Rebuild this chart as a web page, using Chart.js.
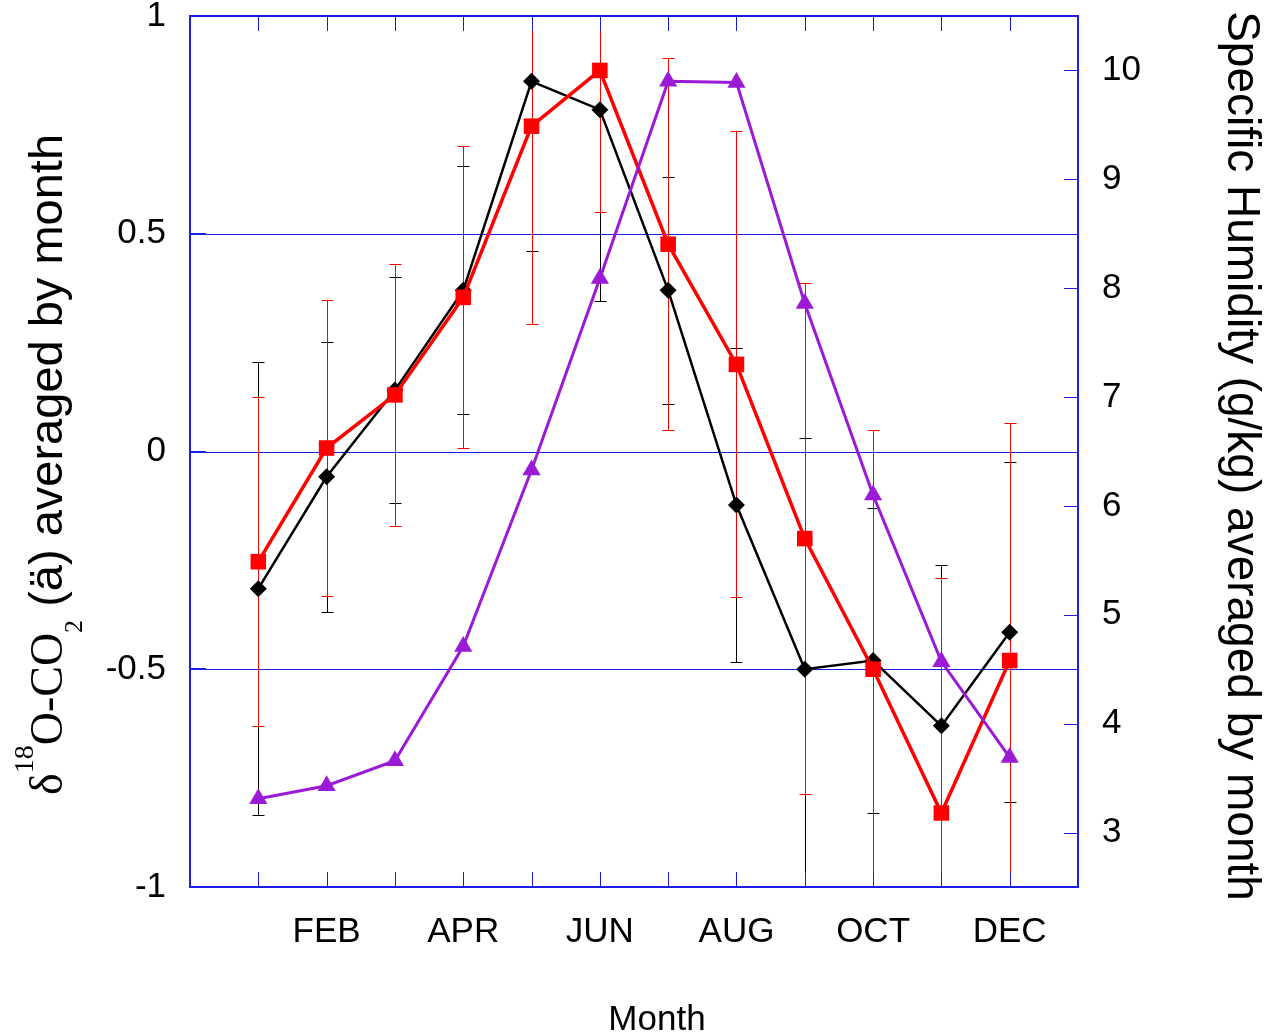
<!DOCTYPE html>
<html>
<head>
<meta charset="utf-8">
<script src="https://cdn.jsdelivr.net/npm/chart.js@4.4.1/dist/chart.umd.min.js"></script>
<style>
html, body { margin: 0; padding: 0; background: #fff; }
</style>
</head>
<body>
<canvas id="c" width="1282" height="1036"></canvas>
<script>
// monthly means
const months = ['JAN', 'FEB', 'MAR', 'APR', 'MAY', 'JUN', 'JUL', 'AUG', 'SEP', 'OCT', 'NOV', 'DEC'];
const d18oBlack = [-0.315, -0.058, 0.141, 0.37, 0.85, 0.785, 0.37, -0.123, -0.50, -0.48, -0.63, -0.415];
const d18oBlackErr = [0.52, 0.31, 0.26, 0.285, 0.39, 0.44, 0.26, 0.36, 0.53, 0.35, 0.37, 0.39];
const d18oRed = [-0.253, 0.008, 0.13, 0.354, 0.747, 0.875, 0.476, 0.20, -0.20, -0.50, -0.83, -0.48];
const d18oRedErr = [0.377, 0.34, 0.30, 0.347, 0.455, 0.326, 0.427, 0.535, 0.587, 0.55, 0.54, 0.546];
const humidity = [3.31, 3.43, 3.66, 4.71, 6.33, 8.09, 9.90, 9.89, 7.86, 6.10, 4.57, 3.69];
const leftTicks = [-1, -0.5, 0, 0.5, 1];
const rightTicks = [3, 4, 5, 6, 7, 8, 9, 10];

const BLUE = '#1c1ce8';
const PURPLE = '#9a1ad6';
const SANS = '"Liberation Sans", Arial, sans-serif';
const SERIF = '"Liberation Serif", "Times New Roman", serif';

function pts(arr){
    return arr.map((v, i) => ({x: i + 1, y: v}));
}

// grid, error bars, blue frame with inward ticks - all under the lines
const errorBars = {
    id: 'errorBars',
    beforeDatasetsDraw(chart){
        const {ctx, chartArea: a} = chart;
        const x = chart.scales.x, y = chart.scales.y, yR = chart.scales.yR;

        ctx.save();
        ctx.strokeStyle = BLUE;
        ctx.lineWidth = 1;
        ctx.beginPath();
        leftTicks.forEach(v => {
            const py = Math.round(y.getPixelForValue(v)) + 0.5;
            ctx.moveTo(a.left, py); ctx.lineTo(a.right, py);
        });
        ctx.stroke();
        ctx.restore();

        ctx.save();
        ctx.beginPath();
        ctx.rect(a.left, a.top, a.right - a.left, a.bottom - a.top);
        ctx.clip();
        ctx.lineWidth = 1;
        [[d18oBlack, d18oBlackErr, '#000'], [d18oRed, d18oRedErr, '#ff0000']].forEach(([vals, errs, col]) => {
            ctx.strokeStyle = col;
            vals.forEach((v, i) => {
                const px = Math.round(x.getPixelForValue(i + 1)) + 0.5;
                const hi = Math.round(y.getPixelForValue(v + errs[i])) + 0.5;
                const lo = Math.round(y.getPixelForValue(v - errs[i])) + 0.5;
                ctx.beginPath();
                ctx.moveTo(px, hi); ctx.lineTo(px, lo);
                ctx.moveTo(px - 6, hi); ctx.lineTo(px + 6, hi);
                ctx.moveTo(px - 6, lo); ctx.lineTo(px + 6, lo);
                ctx.stroke();
            });
        });
        ctx.restore();

        ctx.save();
        ctx.strokeStyle = BLUE;
        ctx.lineWidth = 1;
        ctx.beginPath();
        for(let m = 1; m <= 12; m++){
            const px = Math.round(x.getPixelForValue(m)) + 0.5;
            ctx.moveTo(px, a.top); ctx.lineTo(px, a.top + 15);
            ctx.moveTo(px, a.bottom); ctx.lineTo(px, a.bottom - 15);
        }
        leftTicks.forEach(v => {
            const py = Math.round(y.getPixelForValue(v)) + 0.5;
            ctx.moveTo(a.left, py - 1); ctx.lineTo(a.left + 16, py - 1);
        });
        rightTicks.forEach(v => {
            const py = Math.round(yR.getPixelForValue(v)) + 0.5;
            ctx.moveTo(a.right, py); ctx.lineTo(a.right - 14, py);
        });
        ctx.stroke();
        ctx.lineWidth = 2;
        ctx.strokeRect(a.left, a.top, a.right - a.left, a.bottom - a.top);
        ctx.restore();
    }
};

// axis titles (sub/superscripts need manual drawing)
const titles = {
    id: 'titles',
    afterDraw(chart){
        const ctx = chart.ctx;
        ctx.save();
        ctx.fillStyle = '#000';
        ctx.textBaseline = 'alphabetic';

        ctx.font = '35px ' + SANS;
        ctx.textAlign = 'center';
        ctx.fillText('Month', 657, 1030);

        ctx.save();
        ctx.translate(1228, 456);
        ctx.rotate(Math.PI / 2);
        ctx.font = '46px ' + SANS;
        ctx.fillText('Specific Humidity (g/kg) averaged by month', 0, 0);
        ctx.restore();

        ctx.save();
        ctx.translate(62, 795);
        ctx.rotate(-Math.PI / 2);
        ctx.textAlign = 'left';
        let cx = 0;
        const part = (txt, font, dy) => {
            ctx.font = font;
            ctx.fillText(txt, cx, dy);
            cx += ctx.measureText(txt).width;
        };
        part('\u03b4', '46px ' + SERIF, 0);
        part('18', '28px ' + SERIF, -29);
        part('O-CO', '46px ' + SERIF, 0);
        part('2', '26px ' + SERIF, 20);
        part(' (\u00e4) averaged by month', '47px ' + SANS, 0);
        ctx.restore();

        ctx.restore();
    }
};

const tickFont = {family: SANS, size: 35};

function noPadV(s, w){
    s.width = w;
    s.paddingTop = 0;
    s.paddingBottom = 0;
}

new Chart(document.getElementById('c'), {
    type: 'line',
    data: {
        datasets: [
            {
                label: 'Specific humidity',
                data: pts(humidity),
                yAxisID: 'yR',
                borderColor: PURPLE,
                backgroundColor: PURPLE,
                borderWidth: 3,
                pointStyle: 'triangle',
                pointRadius: 10.5,
                pointBorderWidth: 0
            },
            {
                label: 'd18O red',
                data: pts(d18oRed),
                yAxisID: 'y',
                borderColor: '#ff0000',
                backgroundColor: '#ff0000',
                borderWidth: 3.5,
                pointStyle: 'rect',
                pointRadius: 11,
                pointBorderWidth: 0
            },
            {
                label: 'd18O black',
                data: pts(d18oBlack),
                yAxisID: 'y',
                borderColor: '#000',
                backgroundColor: '#000',
                borderWidth: 2.5,
                pointStyle: 'rectRot',
                pointRadius: 8.5,
                pointBorderWidth: 0
            }
        ]
    },
    options: {
        responsive: false,
        animation: false,
        devicePixelRatio: 1,
        layout: {padding: {top: 16, left: 0, right: 0, bottom: 0}},
        plugins: {legend: {display: false}, tooltip: {enabled: false}},
        elements: {line: {tension: 0}},
        scales: {
            x: {
                type: 'linear',
                min: 0,
                max: 13,
                afterFit(s){ s.height = 149; s.paddingLeft = 0; s.paddingRight = 0; },
                afterBuildTicks(s){ s.ticks = months.map((m, i) => ({value: i + 1})); },
                grid: {display: false, drawTicks: false},
                border: {display: false},
                ticks: {
                    autoSkip: false,
                    maxRotation: 0,
                    padding: 24,
                    color: '#000',
                    font: tickFont,
                    callback: v => (v % 2 === 0 ? months[v - 1] : '')
                }
            },
            y: {
                position: 'left',
                min: -1,
                max: 1,
                afterFit(s){ noPadV(s, 190); },
                afterBuildTicks(s){ s.ticks = leftTicks.map(v => ({value: v})); },
                grid: {display: false, drawTicks: false},
                border: {display: false},
                ticks: {padding: 24, color: '#000', font: tickFont, callback: v => String(v)}
            },
            yR: {
                position: 'right',
                min: 2.5,
                max: 10.5,
                afterFit(s){ noPadV(s, 204); },
                afterBuildTicks(s){ s.ticks = rightTicks.map(v => ({value: v})); },
                grid: {display: false, drawTicks: false},
                border: {display: false},
                ticks: {padding: 24, color: '#000', font: tickFont, callback: v => String(v)}
            }
        }
    },
    plugins: [errorBars, titles]
});
</script>
</body>
</html>
